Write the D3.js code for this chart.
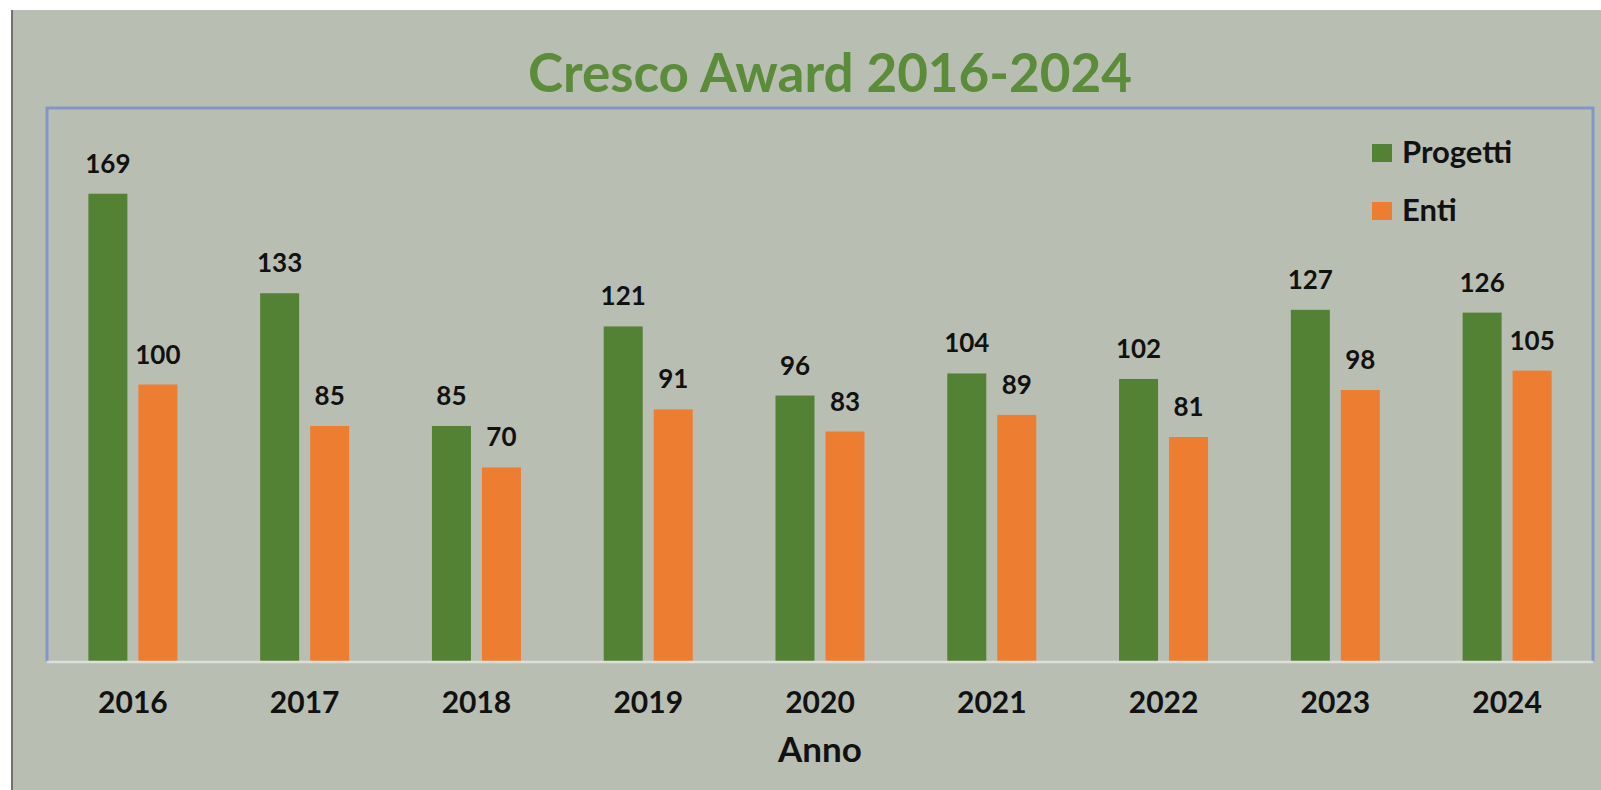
<!DOCTYPE html>
<html>
<head>
<meta charset="utf-8">
<script src="https://cdn.jsdelivr.net/npm/d3@7"></script>
<style>
  html, body { margin: 0; padding: 0; background: #fff; }
  svg { display: block; }
</style>
</head>
<body>
<script>
const years = ["2016", "2017", "2018", "2019", "2020", "2021", "2022", "2023", "2024"];
const series = ["Progetti", "Enti"];
const progetti = [169, 133, 85, 121, 96, 104, 102, 127, 126];
const enti = [100, 85, 70, 91, 83, 89, 81, 98, 105];
const colors = ["#548235", "#ed7d31"];

const width = 1601, height = 790;
const margin = ({ top: 108, right: 8, bottom: 129, left: 47 });
const font = "Lato, 'Open Sans', sans-serif";

const data = years.map((yr, i) => ({ year: yr, values: [progetti[i], enti[i]] }));

const svg = d3.select("body")
  .append("svg")
  .attr("width", width)
  .attr("height", height);

// backdrop
svg.append("rect")
  .attr("x", 13).attr("y", 10)
  .attr("width", width - 13).attr("height", height - 10)
  .attr("fill", "#b9beb3");
svg.append("line")
  .attr("x1", 12).attr("x2", 12)
  .attr("y1", 10).attr("y2", height)
  .attr("stroke", "#6f716d").attr("stroke-width", 2);

const x0 = d3.scaleBand()
  .domain(years)
  .range([margin.left, width - margin.right]);

const x1 = d3.scaleBand()
  .domain(series)
  .range([0, 89])
  .paddingInner(0.22);

const y = d3.scaleLinear()
  .domain([0, 200])
  .range([height - margin.bottom, margin.top]);

// plot frame
const fx0 = margin.left, fx1 = width - margin.right;
const fy0 = margin.top, fy1 = height - margin.bottom;
svg.append("path")
  .attr("d", `M${fx0},${fy1}V${fy0}H${fx1}V${fy1}`)
  .attr("fill", "none")
  .attr("stroke", "#8396c6")
  .attr("stroke-width", 3);

const groups = svg.append("g")
  .selectAll("g")
  .data(data)
  .join("g")
  .attr("transform", d => `translate(${x0(d.year) + (x0.bandwidth() - 89) / 2},0)`);

groups.selectAll("rect")
  .data(d => d.values.map((v, i) => ({ key: series[i], v, i })))
  .join("rect")
  .attr("x", d => x1(d.key))
  .attr("y", d => y(d.v))
  .attr("width", x1.bandwidth())
  .attr("height", d => y(0) - y(d.v))
  .attr("fill", d => colors[d.i]);

groups.selectAll("text")
  .data(d => d.values.map((v, i) => ({ key: series[i], v, i })))
  .join("text")
  .attr("x", d => x1(d.key) + x1.bandwidth() / 2)
  .attr("y", d => y(d.v) - 21)
  .attr("text-anchor", "middle")
  .attr("font-family", font)
  .attr("font-weight", 700)
  .attr("font-size", 26)
  .attr("fill", "#111")
  .text(d => d.v);

// axis line
svg.append("line")
  .attr("x1", fx0).attr("x2", fx1)
  .attr("y1", fy1 + 1).attr("y2", fy1 + 1)
  .attr("stroke", "#dde0da").attr("stroke-width", 2.5);

const xAxis = g => {
  g
    .attr("transform", `translate(0,${fy1})`)
    .call(d3.axisBottom(x0).tickSize(0).tickPadding(0))
    .call(g => g.select(".domain").remove())
    .call(g => g.selectAll("text")
      .attr("y", 52)
      .attr("dy", 0)
      .attr("font-family", font)
      .attr("font-weight", 700)
      .attr("font-size", 30)
      .attr("fill", "#111"));
};
svg.append("g").call(xAxis);

svg.append("text")
  .attr("x", (fx0 + fx1) / 2)
  .attr("y", 762)
  .attr("text-anchor", "middle")
  .attr("font-family", font)
  .attr("font-weight", 700)
  .attr("font-size", 35)
  .attr("fill", "#111")
  .text("Anno");

// title
svg.append("text")
  .attr("x", 830)
  .attr("y", 92)
  .attr("text-anchor", "middle")
  .attr("font-family", font)
  .attr("font-weight", 700)
  .attr("font-size", 53)
  .attr("fill", "#5b8c39")
  .text("Cresco Award 2016-2024");

// legend
const legend = svg.append("g")
  .selectAll("g")
  .data(series)
  .join("g")
  .attr("transform", (d, i) => `translate(1372,${144 + i * 58})`);
legend.append("rect")
  .attr("width", 20).attr("height", 18)
  .attr("fill", (d, i) => colors[i]);
legend.append("text")
  .attr("x", 30).attr("y", 19)
  .attr("font-family", font)
  .attr("font-weight", 700)
  .attr("font-size", 31)
  .attr("fill", "#111")
  .text(d => d);
</script>
</body>
</html>
